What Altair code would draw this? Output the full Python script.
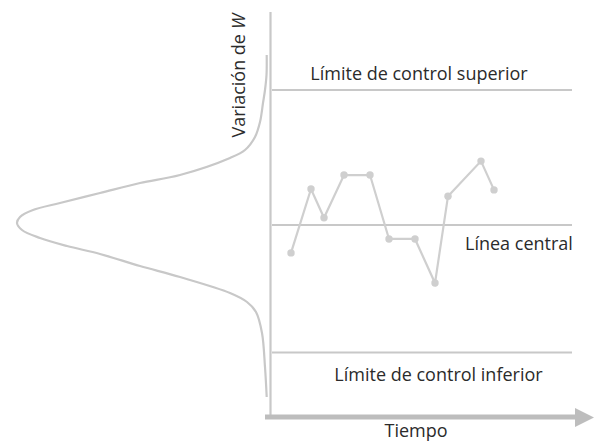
import altair as alt
import pandas as pd

# ---- data (abstract units: time t, variable W; W=0 at the centre line) ----
sample_t = [1.05, 2.05, 2.7, 3.7, 5.0, 5.95, 7.25, 8.25, 8.9, 10.55, 11.2]
sample_w = [-0.62, 0.80, 0.16, 1.11, 1.11, -0.31, -0.31, -1.29, 0.64, 1.42, 0.78]

limit_names = ["Límite de control superior", "Línea central", "Límite de control inferior"]
limit_w = [3.0, 0.0, -2.833]
limit_t_start = 0.1
limit_t_end = 15.1

# bell curve (distribution of W): horizontal offset t, level W
bell_t = [-0.165, -0.175, -0.25, -0.35, -0.5, -0.75, -1.25, -2.0, -4.5, -6.5, -8.5,
          -10.5, -11.85, -12.5, -12.65, -12.4, -11.5, -10.15, -8.5, -6.5, -4.5,
          -2.0, -1.15, -0.7, -0.4, -0.25, -0.165]
bell_w = [3.778, 3.333, 3.0, 2.711, 2.289, 1.956, 1.667, 1.489, 1.111, 0.933, 0.711,
          0.489, 0.333, 0.178, 0.044, -0.111, -0.289, -0.467, -0.644, -0.911, -1.156,
          -1.511, -1.711, -1.933, -2.4, -3.156, -3.822]

# axes (diagram frame)
vaxis_t = 0.025
vaxis_w = [4.733, -4.222]
haxis_w = -4.267
haxis_t = [-0.25, 15.4]
arrow_t = 15.725
arrow_w = -4.278

# label anchors
label_t = [7.45, 9.75, 8.425]
label_w = [3.222, -0.556, -3.467]
label_align = ["center", "left", "center"]
x_title = "Tiempo"
x_title_pos = (7.3, -4.711)
y_title_main = "Variación de"
y_title_var = "W"
y_title_t = -1.25
y_title_main_w = 4.244
y_title_var_w = 4.356

X_DOMAIN = [-13.1, 16.2]
Y_DOMAIN = [-4.8889, 4.8222]

LINE = "#c8c8c8"
AXIS = "#bdbdbd"
TEXT = "#2b2b2b"
FONT = "Open Sans"
FS = 18

xs = alt.Scale(domain=X_DOMAIN, nice=False, zero=False)
ys = alt.Scale(domain=Y_DOMAIN, nice=False, zero=False)


def X(f):
    return alt.X(f, type="quantitative", scale=xs, axis=None)


def Y(f):
    return alt.Y(f, type="quantitative", scale=ys, axis=None)


bell_df = pd.DataFrame({"t": bell_t, "w": bell_w, "i": range(len(bell_t))})
bell = alt.Chart(bell_df).mark_line(
    interpolate="catmull-rom", color=LINE, strokeWidth=2.2
).encode(x=X("t"), y=Y("w"), order="i:Q")

vaxis_df = pd.DataFrame({"t": [vaxis_t], "w": [vaxis_w[0]], "w2": [vaxis_w[1]]})
vaxis = alt.Chart(vaxis_df).mark_rule(color=LINE, strokeWidth=2.2).encode(
    x=X("t"), y=Y("w"), y2="w2")

haxis_df = pd.DataFrame({"t": [haxis_t[0]], "t2": [haxis_t[1]], "w": [haxis_w]})
haxis = alt.Chart(haxis_df).mark_rule(color=AXIS, strokeWidth=5).encode(
    x=X("t"), x2="t2", y=Y("w"))

arrow_df = pd.DataFrame({"t": [arrow_t], "w": [arrow_w]})
arrow = alt.Chart(arrow_df).mark_point(
    shape="M-1,-1L1,0L-1,1Z", filled=True, color=AXIS, opacity=1, size=361, strokeWidth=0
).encode(x=X("t"), y=Y("w"))

lim_df = pd.DataFrame({"name": limit_names, "w": limit_w,
                       "t": [limit_t_start] * 3, "t2": [limit_t_end] * 3})
limits = alt.Chart(lim_df).mark_rule(color=LINE, strokeWidth=2.2).encode(
    x=X("t"), x2="t2", y=Y("w"))

samp_df = pd.DataFrame({"t": sample_t, "w": sample_w, "i": range(len(sample_t))})
series = alt.Chart(samp_df).mark_line(color="#cfcfcf", strokeWidth=2.2).encode(
    x=X("t"), y=Y("w"), order="i:Q")
dots = alt.Chart(samp_df).mark_circle(color="#cfcfcf", opacity=1, size=55).encode(
    x=X("t"), y=Y("w"))

labels = []
for name, t, w, al in zip(limit_names, label_t, label_w, label_align):
    d = pd.DataFrame({"t": [t], "w": [w], "s": [name]})
    labels.append(alt.Chart(d).mark_text(
        font=FONT, fontSize=FS, color=TEXT, align=al, baseline="alphabetic"
    ).encode(x=X("t"), y=Y("w"), text="s:N"))

xt_df = pd.DataFrame({"t": [x_title_pos[0]], "w": [x_title_pos[1]], "s": [x_title]})
xtitle = alt.Chart(xt_df).mark_text(
    font=FONT, fontSize=FS, color=TEXT, align="center", baseline="alphabetic"
).encode(x=X("t"), y=Y("w"), text="s:N")

yta_df = pd.DataFrame({"t": [y_title_t], "w": [y_title_main_w], "a": [y_title_main]})
ytb_df = pd.DataFrame({"t": [y_title_t], "w": [y_title_var_w], "b": [y_title_var]})
ytitle_a = alt.Chart(yta_df).mark_text(
    font=FONT, fontSize=FS, color=TEXT, align="right", baseline="alphabetic", angle=270
).encode(x=X("t"), y=Y("w"), text="a:N")
ytitle_b = alt.Chart(ytb_df).mark_text(
    font=FONT, fontSize=FS, color=TEXT, align="left", baseline="alphabetic", angle=270,
    fontStyle="italic"
).encode(x=X("t"), y=Y("w"), text="b:N")

chart = alt.layer(
    bell, vaxis, limits, series, dots, haxis, arrow, *labels, xtitle, ytitle_a, ytitle_b
).properties(
    width=586, height=437,
    autosize=alt.AutoSizeParams(type="none"),
    padding=0,
    background="white",
).configure_view(stroke=None)

chart.save("out.html", embed_options={"renderer": "svg", "actions": False})
